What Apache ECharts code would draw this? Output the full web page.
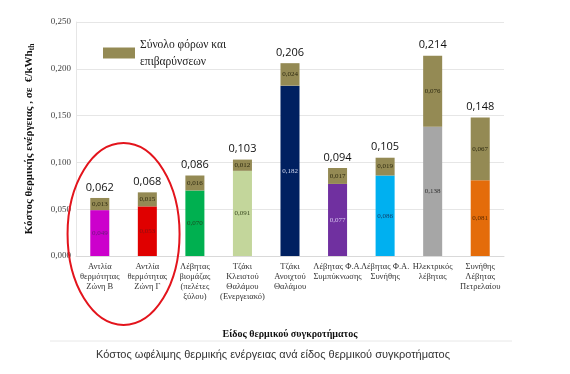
<!DOCTYPE html>
<html><head><meta charset="utf-8">
<script src="https://cdn.jsdelivr.net/npm/echarts@6/dist/echarts.min.js"></script>
<style>html,body{margin:0;padding:0;background:#fff}#c{width:570px;height:374px}</style>
</head><body><div id="c"></div>
<script>
var categories = ['Αντλία\nθερμότητας\nΖώνη Β','Αντλία\nθερμότητας\nΖώνη Γ','Λέβητας\nβιομάζας\n(πελέτες\nξύλου)','Τζάκι\nΚλειστού\nΘαλάμου\n(Ενεργειακό)','Τζάκι\nΑνοιχτού\nΘαλάμου','Λέβητας Φ.Α.\nΣυμπύκνωσης','Λέβητας Φ.Α.\nΣυνήθης','Ηλεκτρικός\nλέβητας','Συνήθης\nΛέβητας\nΠετρελαίου'];
var baseValues = [0.049,0.053,0.070,0.091,0.182,0.077,0.086,0.138,0.081];
var taxValues = [0.013,0.015,0.016,0.012,0.024,0.017,0.019,0.076,0.067];
var totalValues = [0.062,0.068,0.086,0.103,0.206,0.094,0.105,0.214,0.148];
var baseColors = ['#cc00cc','#e00000','#00b050','#c3d69b','#002060','#7030a0','#00b0f0','#a6a6a6','#e46c0a'];
var baseLabelColors = ['#6a1a7a','#8a1010','#1a4a20','#3a4a20','#d0d8f0','#d8c8f0','#10406a','#303030','#5a2a00'];
var yTicks = [0,0.05,0.1,0.15,0.2,0.25];
var fmt = function(v){return v.toFixed(3).replace('.',',');};
var chart = echarts.init(document.getElementById('c'));
var serif = '"Liberation Serif", "DejaVu Serif", serif';
chart.setOption({
  animation:false,
  grid:{left:76,right:66,top:22,bottom:118},
  legend:{data:['Σύνολο φόρων και\nεπιβαρύνσεων'],left:98,top:31,itemWidth:32,itemHeight:11,itemGap:6,icon:'rect',
    textStyle:{fontFamily:serif,fontSize:11.5,color:'#222',lineHeight:17}},
  title:{text:'Κόστος ωφέλιμης θερμικής ενέργειας ανά είδος θερμικού συγκροτήματος',left:268,textAlign:'center',top:344,
    textStyle:{fontFamily:'"Liberation Sans", Arial, sans-serif',fontSize:11,fontWeight:'normal',color:'#333'}},
  xAxis:{type:'category',data:categories,
    axisLine:{lineStyle:{color:'#d9d9d9'}},axisTick:{show:false},
    axisLabel:{fontFamily:serif,fontSize:8.5,color:'#333',lineHeight:10,interval:0,margin:6},
    name:'Είδος θερμικού συγκροτήματος',nameLocation:'middle',nameGap:73,
    nameTextStyle:{fontFamily:serif,fontSize:10,fontWeight:'bold',color:'#111'}},
  yAxis:{type:'value',min:0,max:0.25,interval:0.05,
    axisLine:{show:true,lineStyle:{color:'#e6e6e6'}},
    splitLine:{lineStyle:{color:'#e6e6e6'}},
    axisLabel:{fontFamily:serif,fontSize:9,color:'#444',formatter:function(v){return fmt(v);},margin:5},
    name:'{a|Κόστος θερμικής ενέργειας , σε  €/kWh}{s|th}',nameLocation:'middle',nameGap:40,
    nameTextStyle:{rich:{a:{fontFamily:serif,fontSize:11,fontWeight:'bold',color:'#111'},s:{fontFamily:serif,fontSize:7.5,fontWeight:'bold',color:'#111',padding:[6,0,0,0]}}}},
  series:[
    {name:'base',type:'bar',stack:'s',barWidth:'40%',
      data:baseValues.map(function(v,i){return {value:v,itemStyle:{color:baseColors[i]},label:{color:baseLabelColors[i]}};}),
      label:{show:true,position:'inside',fontFamily:serif,fontSize:7,formatter:function(p){return fmt(p.value);}}},
    {name:'Σύνολο φόρων και\nεπιβαρύνσεων',type:'bar',stack:'s',barWidth:'40%',itemStyle:{color:'#948a54'},
      data:taxValues,
      label:{show:true,position:'inside',fontFamily:serif,fontSize:7,color:'#2e2a10',formatter:function(p){return fmt(p.value);}}},
    {name:'total',type:'bar',barWidth:'40%',barGap:'-100%',itemStyle:{color:'rgba(0,0,0,0)'},silent:true,
      data:totalValues,z:0,
      label:{show:true,position:'top',distance:5,fontFamily:'"Open Sans", "Liberation Sans", sans-serif',fontSize:11,color:'#111',formatter:function(p){return fmt(p.value);}}}
  ]
});
var p0 = chart.convertToPixel({xAxisIndex:0,yAxisIndex:0},[0,0]);
var p1 = chart.convertToPixel({xAxisIndex:0,yAxisIndex:0},[1,0]);
chart.setOption({graphic:[
  {type:'ellipse',shape:{cx:(p0[0]+p1[0])/2,cy:p0[1]-22,rx:56,ry:91},style:{fill:'none',stroke:'#e3141c',lineWidth:2},z:100},
  {type:'line',shape:{x1:50,y1:341,x2:512,y2:341},style:{stroke:'#e8e8e8',lineWidth:1}}
]});
</script></body></html>
